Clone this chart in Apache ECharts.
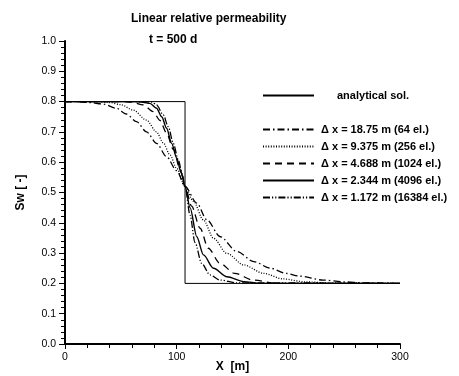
<!DOCTYPE html>
<html><head><meta charset="utf-8">
<script src="https://cdn.jsdelivr.net/npm/echarts@6/dist/echarts.min.js"></script>
<style>html,body{margin:0;padding:0;background:#fff}#c{width:459px;height:376px}</style>
</head><body><div id="c"></div>
<script>
// ---- data ----
const titleText = 'Linear relative permeability';
const subText = 't = 500 d';
const xTicks = [0, 100, 200, 300];
const yTicks = [0.0, 0.1, 0.2, 0.3, 0.4, 0.5, 0.6, 0.7, 0.8, 0.9, 1.0];
const seriesNames = ['analytical sol.', 'Δ x = 18.75 m (64 el.)', 'Δ x = 9.375 m (256 el.)', 'Δ x = 4.688 m (1024 el.)', 'Δ x = 2.344 m (4096 el.)', 'Δ x = 1.172 m (16384 el.)'];

const xAnalytic = [0, 107.5, 107.5, 300];
const yAnalytic = [0.8, 0.8, 0.2, 0.2];

const x18 = [0, 10, 22, 34, 46, 55, 64, 73, 82, 91, 100, 107.5, 118, 127, 139, 154, 169, 184, 198, 210, 231, 250, 267, 300];
const y18 = [0.8, 0.8, 0.797, 0.792, 0.778, 0.759, 0.734, 0.70, 0.662, 0.618, 0.572, 0.52, 0.465, 0.41, 0.354, 0.305, 0.272, 0.25, 0.233, 0.224, 0.211, 0.205, 0.202, 0.2];

const x9 = [0, 30, 40, 50, 61, 73, 82, 88, 94, 100, 107.5, 115, 124, 133, 145, 160, 178, 195, 215, 240, 300];
const y9 = [0.8, 0.8, 0.797, 0.790, 0.772, 0.739, 0.70, 0.664, 0.624, 0.58, 0.52, 0.471, 0.409, 0.349, 0.299, 0.261, 0.233, 0.215, 0.205, 0.201, 0.2];

const x4 = [0, 50, 60, 70, 79, 85, 91, 97, 103, 107.5, 113.4, 121, 128.3, 138.8, 152, 168.6, 190, 300];
const y4 = [0.8, 0.8, 0.798, 0.789, 0.767, 0.738, 0.696, 0.642, 0.578, 0.52, 0.455, 0.382, 0.316, 0.266, 0.233, 0.211, 0.2, 0.2];

const x2 = [0, 60, 70, 76, 82, 86.6, 91, 95.5, 100, 104, 107.5, 112, 118, 124, 133, 145, 160, 175, 300];
const y2 = [0.8, 0.8, 0.798, 0.794, 0.778, 0.75, 0.712, 0.662, 0.614, 0.565, 0.52, 0.45, 0.354, 0.294, 0.25, 0.222, 0.206, 0.2, 0.2];

const x1 = [0, 70, 78, 82, 88, 92.5, 97, 101.5, 105, 107.5, 112, 116.4, 122.4, 129.8, 138.8, 153.7, 300];
const y1 = [0.8, 0.8, 0.798, 0.789, 0.756, 0.717, 0.662, 0.607, 0.56, 0.52, 0.425, 0.335, 0.266, 0.228, 0.211, 0.202, 0.2];

// ---- chart ----
const FONT = '"Liberation Sans", Arial, Helvetica, sans-serif';
const zip = (xs, ys) => xs.map((x, i) => [x, ys[i]]);
const curves = [
  { name: seriesNames[1], xs: x18, ys: y18, type: [7, 3, 1.5, 3], w: 1.3 },
  { name: seriesNames[2], xs: x9, ys: y9, type: [1, 1.6], w: 1.3 },
  { name: seriesNames[3], xs: x4, ys: y4, type: [7, 5], w: 1.3 },
  { name: seriesNames[4], xs: x2, ys: y2, type: 'solid', w: 1.4 },
  { name: seriesNames[5], xs: x1, ys: y1, type: [7, 2, 1.2, 2, 1.2, 2], w: 1.3 }
];

const series = [{
  name: seriesNames[0], type: 'line', data: zip(xAnalytic, yAnalytic),
  symbol: 'none', showSymbol: false, silent: true,
  itemStyle: { color: '#000' },
  lineStyle: { color: '#000', width: 1, type: 'solid' }
}].concat(curves.map(c => ({
  name: c.name, type: 'line', data: zip(c.xs, c.ys), symbol: 'none', showSymbol: false,
  smooth: 0.3, smoothMonotone: 'x', silent: true,
  itemStyle: { color: '#000' },
  lineStyle: { color: '#000', width: c.w, type: c.type }
})));

const legendText = { fontFamily: FONT, fontSize: 11, fontWeight: 'bold', color: '#000' };
const chart = echarts.init(document.getElementById('c'), null, { renderer: 'canvas' });
chart.setOption({
  animation: false,
  backgroundColor: '#fff',
  title: [
    { text: titleText, left: 131, top: 13, padding: 0, textStyle: { fontFamily: FONT, fontSize: 12, fontWeight: 'bold', color: '#000' } },
    { text: subText, left: 149, top: 34, padding: 0, textStyle: { fontFamily: FONT, fontSize: 12, fontWeight: 'bold', color: '#000' } }
  ],
  legend: [
    { data: [seriesNames[0]], left: 262, top: 90, padding: 0, itemWidth: 51, itemHeight: 12,
      itemStyle: { opacity: 0 },
      textStyle: Object.assign({ padding: [0, 0, 0, 18] }, legendText), selectedMode: false },
    { data: seriesNames.slice(1), orient: 'vertical', left: 262, top: 124, padding: 0, itemWidth: 51, itemHeight: 12, itemGap: 6,
      itemStyle: { opacity: 0 },
      textStyle: Object.assign({ padding: [0, 0, 0, 2] }, legendText), selectedMode: false }
  ],
  grid: { left: 65, right: 59, top: 41, bottom: 32, containLabel: false, outerBoundsMode: 'none' },
  xAxis: {
    type: 'value', min: xTicks[0], max: xTicks[xTicks.length - 1], interval: xTicks[1] - xTicks[0],
    name: 'X  [m]', nameLocation: 'middle', nameGap: 17, nameMoveOverlap: false,
    nameTextStyle: { fontFamily: FONT, fontSize: 12, fontWeight: 'bold', color: '#000' },
    axisLine: { show: true, lineStyle: { color: '#000', width: 2 } },
    axisTick: { show: true, inside: false, length: 5, lineStyle: { color: '#000', width: 1 } },
    minorTick: { show: true, splitNumber: 5, length: 4, lineStyle: { color: '#000', width: 1 } },
    axisLabel: { margin: 8, fontFamily: FONT, fontSize: 10.5, color: '#000' },
    splitLine: { show: false }
  },
  yAxis: {
    type: 'value', min: yTicks[0], max: yTicks[yTicks.length - 1], interval: 0.1,
    name: 'Sw [ -]', nameLocation: 'middle', nameGap: 38, nameMoveOverlap: false,
    nameTextStyle: { fontFamily: FONT, fontSize: 12, fontWeight: 'bold', color: '#000' },
    axisLine: { show: true, lineStyle: { color: '#000', width: 2 } },
    axisTick: { show: true, inside: false, length: 6, lineStyle: { color: '#000', width: 1 } },
    minorTick: { show: true, splitNumber: 5, length: 4, lineStyle: { color: '#000', width: 1 } },
    axisLabel: { margin: 9, fontFamily: FONT, fontSize: 10.5, color: '#000', formatter: v => v.toFixed(1) },
    splitLine: { show: false }
  },
  series: series
});
</script></body></html>
